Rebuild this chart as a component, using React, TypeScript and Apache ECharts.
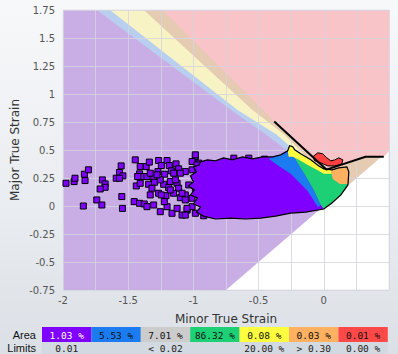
import React, { useEffect, useRef } from 'react';
import * as echarts from 'echarts';

// ---- background zones (minor strain, major strain) ----
const zonePurple = [[-2, 1.75], [0.5, 1.75], [0.5, 0.5], [-0.75, -0.75], [-2, -0.75]];
const zoneBlue = [[-1.74, 1.75], [0.5, 1.75], [0.5, 0.5], [0.13, 0.13], [-0.44, 0.636], [-0.715, 0.86]];
const zoneYellow = [[-1.64, 1.75], [0.5, 1.75], [0.5, 0.5], [0.13, 0.13], [-0.36, 0.636], [-0.664, 0.86]];
const zoneTan = [[-1.38, 1.75], [0.5, 1.75], [0.5, 0.5], [0.13, 0.13], [-0.3, 0.636], [-0.549, 0.86]];
const zoneRed = [[-1.24, 1.75], [-0.38, 0.755], [0.02, 0.325], [0.32, 0.44], [0.46, 0.44], [0.5, 0.49], [0.5, 1.75]];

// ---- forming limit curve ----
const flcCurve = [[-0.38, 0.755], [0.02, 0.325], [0.32, 0.44], [0.46, 0.44]];

// ---- measured strain distribution (dense areas) ----
const denseCloud = [
  [-0.946, 0.394], [-0.892, 0.412], [-0.831, 0.403], [-0.769, 0.43], [-0.7, 0.412], [-0.623, 0.439],
  [-0.546, 0.421], [-0.469, 0.439], [-0.392, 0.439], [-0.331, 0.457], [-0.277, 0.493], [-0.262, 0.538],
  [-0.238, 0.529], [-0.223, 0.502], [-0.177, 0.466], [-0.1, 0.412], [-0.038, 0.358], [0.0, 0.332],
  [0.062, 0.323], [0.115, 0.341], [0.177, 0.349], [0.192, 0.305], [0.185, 0.188], [0.131, 0.099],
  [0.062, 0.027], [0.0, -0.027], [-0.138, -0.054], [-0.254, -0.063], [-0.369, -0.09], [-0.485, -0.108],
  [-0.6, -0.116], [-0.715, -0.108], [-0.831, -0.116], [-0.923, -0.09], [-0.977, -0.054], [-0.946, -0.009],
  [-1.0, 0.018], [-0.969, 0.072], [-1.023, 0.099], [-0.992, 0.143], [-1.038, 0.179], [-1.0, 0.215],
  [-1.023, 0.269], [-0.977, 0.305], [-1.0, 0.349], [-0.954, 0.367],
];
const wedgeBlue = [
  [-0.423, 0.421], [-0.346, 0.448], [-0.254, 0.493], [-0.208, 0.394], [-0.154, 0.296], [-0.077, 0.143],
  [-0.023, 0.009], [-0.046, -0.009], [-0.123, 0.134], [-0.254, 0.287], [-0.346, 0.358],
];
const wedgeGreen = [
  [-0.254, 0.493], [-0.231, 0.502], [-0.177, 0.457], [-0.062, 0.385], [-0.008, 0.323], [0.054, 0.314],
  [0.185, 0.341], [0.185, 0.188], [0.131, 0.099], [0.062, 0.027], [0.0, -0.027], [-0.023, 0.009],
  [-0.077, 0.143], [-0.154, 0.296], [-0.208, 0.394],
];
const wedgeYellow = [
  [-0.277, 0.493], [-0.262, 0.538], [-0.238, 0.529], [-0.223, 0.502], [-0.177, 0.466], [-0.1, 0.412],
  [-0.038, 0.358], [0.0, 0.332], [0.062, 0.323], [0.069, 0.287], [0.0, 0.287], [-0.054, 0.323],
  [-0.123, 0.367], [-0.192, 0.412], [-0.238, 0.439], [-0.269, 0.439],
];
const wedgeOrange = [
  [0.054, 0.314], [0.115, 0.341], [0.177, 0.349], [0.192, 0.305], [0.185, 0.197], [0.123, 0.197], [0.069, 0.242],
];
const failRed = [
  [-0.085, 0.439], [-0.046, 0.475], [-0.008, 0.466], [0.023, 0.43], [0.054, 0.403], [0.085, 0.412],
  [0.115, 0.43], [0.146, 0.412], [0.138, 0.376], [0.085, 0.358], [0.031, 0.358], [-0.023, 0.385], [-0.069, 0.403],
];

// ---- isolated measurement points ----
const sparsePoints = [
  [-1.977, 0.203], [-1.915, 0.218], [-1.908, 0.248], [-1.836, 0.284], [-1.805, 0.323], [-1.831, 0.227],
  [-1.698, 0.233], [-1.677, 0.197], [-1.677, 0.167], [-1.715, 0.152], [-1.741, 0.054], [-1.702, 0.009],
  [-1.844, 0.0], [-1.554, 0.358], [-1.567, 0.299], [-1.541, 0.269], [-1.592, 0.248], [-1.567, 0.248],
  [-1.549, 0.084], [-1.544, -0.021], [-1.446, 0.412], [-1.408, 0.352], [-1.438, 0.179], [-1.408, 0.203],
  [-1.413, 0.287], [-1.382, 0.263], [-1.454, 0.039], [-1.413, 0.024], [-1.377, 0.018], [-1.362, 0.352],
  [-1.338, 0.392], [-1.267, 0.406], [-1.202, 0.406], [-1.246, 0.361], [-1.185, 0.361], [-1.133, 0.376],
  [-1.113, 0.332], [-0.985, 0.442], [-0.959, 0.383], [-1.356, 0.263], [-1.305, 0.248], [-1.272, 0.307],
  [-1.221, 0.284], [-1.169, 0.314], [-1.062, 0.307], [-1.01, 0.323], [-1.344, 0.194], [-1.298, 0.212],
  [-1.228, 0.194], [-1.177, 0.218], [-1.125, 0.203], [-1.113, 0.159], [-1.036, 0.188], [-1.19, 0.164],
  [-1.318, 0.159], [-0.959, 0.233], [-0.985, 0.159], [-1.331, 0.099], [-1.267, 0.114], [-1.21, 0.092],
  [-1.152, 0.114], [-1.1, 0.074], [-1.062, 0.099], [-1.01, 0.069], [-0.946, 0.099], [-1.356, -0.006],
  [-1.305, 0.009], [-1.254, -0.051], [-1.202, -0.006], [-1.164, -0.065], [-1.125, -0.021], [-1.087, -0.081],
  [-1.048, -0.036], [-0.985, -0.065], [-0.921, -0.087], [-1.01, -0.006], [-1.428, 0.263], [-1.254, 0.233],
  [-1.279, 0.278], [-1.331, 0.293], [-1.177, 0.143], [-1.246, 0.099], [-1.223, 0.039], [-1.062, -0.081],
  [-1.151, 0.293], [-1.138, 0.233], [-1.1, 0.293], [-1.087, 0.114], [-1.062, 0.054], [-1.049, -0.021],
  [-0.985, 0.457], [-1.01, 0.397], [-0.972, 0.367], [-0.69, 0.427], [-0.575, 0.427], [-0.454, 0.418],
];

// ---- summary table ----
const areaLabels = ['1.03 %', '5.53 %', '7.01 %', '86.32 %', '0.08 %', '0.03 %', '0.01 %'];
const limitLabels = ['0.01', '', '< 0.02', '', '20.00 %', '> 0.30', '0.00 %'];

const cellColors = ['#8000ff', '#1a7cf0', '#cccccc', '#1ed075', '#ffff40', '#ffb060', '#ff4848'];
const cellTextColors = ['#ffffff', '#111111', '#111111', '#111111', '#111111', '#111111', '#111111'];

function polySeries(points: number[][], style: any, z: number) {
  return {
    type: 'custom',
    coordinateSystem: 'cartesian2d',
    z,
    silent: true,
    clip: true,
    data: [points[0]],
    renderItem: (_p: any, api: any) => ({
      type: 'polygon',
      shape: { points: points.map((p) => api.coord(p)) },
      style,
    }),
  };
}

export default function App() {
  const ref = useRef<HTMLDivElement>(null);
  useEffect(() => {
    const chart = echarts.init(ref.current!, null, { renderer: 'svg' });
    const cellX0 = 42;
    const cellW = 49.4;
    const graphic: any[] = [
      { type: 'rect', shape: { x: cellX0, y: 342, width: cellW * 7, height: 12 }, style: { fill: '#d3d9e0' } },
      {
        type: 'text', x: 36, y: 335, style: { text: 'Area', align: 'right', verticalAlign: 'middle', font: '11px "Liberation Sans"', fill: '#111' },
      },
      {
        type: 'text', x: 36, y: 348, style: { text: 'Limits', align: 'right', verticalAlign: 'middle', font: '11px "Liberation Sans"', fill: '#111' },
      },
      {
        type: 'text', x: 226, y: 319, style: { text: 'Minor True Strain', align: 'center', verticalAlign: 'middle', font: '12px "DejaVu Sans"', fill: '#333' },
      },
      {
        type: 'text', x: 15, y: 150, rotation: Math.PI / 2, style: { text: 'Major True Strain', align: 'center', verticalAlign: 'middle', font: '12px "DejaVu Sans"', fill: '#333' },
      },
    ];
    areaLabels.forEach((t, i) => {
      const x = cellX0 + i * cellW;
      graphic.push({ type: 'rect', shape: { x, y: 327, width: cellW, height: 15 }, style: { fill: cellColors[i] } });
      graphic.push({
        type: 'text', x: x + cellW / 2, y: 335,
        style: { text: t, align: 'center', verticalAlign: 'middle', font: '9.5px "DejaVu Sans Mono"', fill: cellTextColors[i] },
      });
      if (limitLabels[i]) {
        graphic.push({
          type: 'text', x: x + cellW / 2, y: 348.5,
          style: { text: limitLabels[i], align: 'center', verticalAlign: 'middle', font: '9.5px "DejaVu Sans Mono"', fill: '#222' },
        });
      }
    });

    const splitLine = { show: true, lineStyle: { color: 'rgba(212,212,224,0.8)', width: 1 } };
    chart.setOption({
      animation: false,
      grid: { left: 63, right: 9, top: 10, bottom: 64, show: true, backgroundColor: '#ffffff', borderColor: '#e2e4ee', borderWidth: 1 },
      xAxis: {
        type: 'value', min: -2, max: 0.5, interval: 0.25, z: 2,
        axisLine: { show: false }, axisTick: { show: false }, splitLine,
        axisLabel: {
          interval: 0, margin: 5, color: '#555', fontSize: 10, fontFamily: 'DejaVu Sans',
          formatter: (v: number) => { const k = Math.round(v * 4); return k % 2 === 0 && v < 0.49 ? String(v) : ''; },
        },
      },
      yAxis: {
        type: 'value', min: -0.75, max: 1.75, interval: 0.25, z: 2,
        axisLine: { show: false }, axisTick: { show: false }, splitLine,
        axisLabel: { margin: 8, color: '#555', fontSize: 10, fontFamily: 'DejaVu Sans' },
      },
      graphic,
      series: [
        polySeries(zonePurple, { fill: '#c9aee6', stroke: 'none' }, 1),
        polySeries(zoneBlue, { fill: '#b9cff0', stroke: 'none' }, 1),
        polySeries(zoneYellow, { fill: '#f8f3c4', stroke: 'none' }, 1),
        polySeries(zoneTan, { fill: '#e4cbb2', stroke: 'none' }, 1),
        polySeries(zoneRed, { fill: '#f8c4c8', stroke: 'none' }, 1),
        {
          type: 'scatter', data: sparsePoints, symbol: 'rect', symbolSize: 6, z: 4, silent: true,
          itemStyle: { color: '#8000ff', borderColor: '#000', borderWidth: 1, opacity: 1 },
        },
        polySeries(denseCloud, { fill: '#8000ff', stroke: 'none' }, 5),
        polySeries(wedgeBlue, { fill: '#1a7cf0', stroke: 'none' }, 6),
        polySeries(wedgeGreen, { fill: '#1ed075', stroke: 'none' }, 6),
        polySeries(wedgeYellow, { fill: '#ffff40', stroke: 'none' }, 7),
        polySeries(wedgeOrange, { fill: '#ffb060', stroke: 'none' }, 7),
        polySeries(denseCloud, { fill: 'none', stroke: '#000', lineWidth: 1.2 }, 8),
        polySeries(failRed, { fill: '#ff4040', stroke: '#000', lineWidth: 1 }, 8),
        {
          type: 'line', data: flcCurve, symbol: 'none', showSymbol: false, z: 9, silent: true,
          lineStyle: { color: '#000', width: 2 },
        },
      ],
    });
    return () => chart.dispose();
  }, []);
  return (
    <div
      ref={ref}
      style={{
        position: 'fixed', left: 0, top: 0, width: 398, height: 354,
        background: 'linear-gradient(#f7f8fa, #e9ecf0 60%, #dbe0e6)',
      }}
    />
  );
}
